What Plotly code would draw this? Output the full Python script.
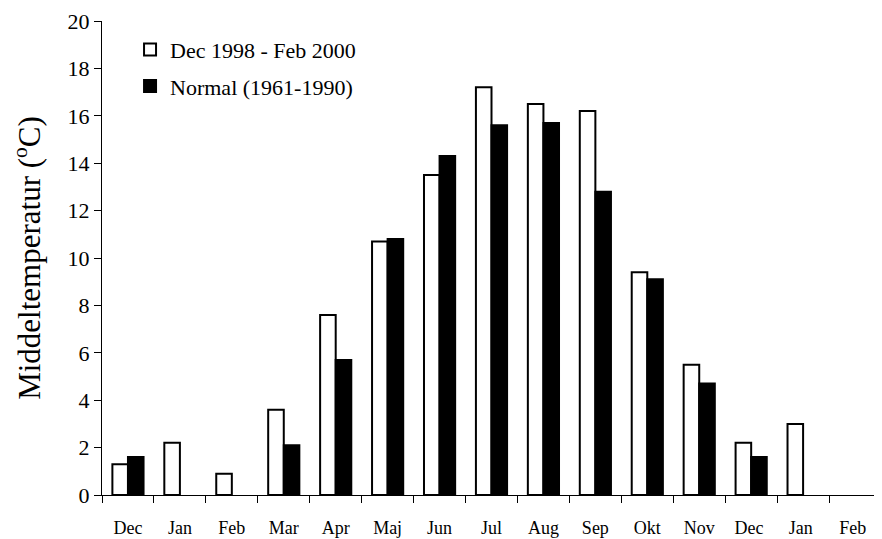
import plotly.graph_objects as go

months = ["Dec", "Jan", "Feb", "Mar", "Apr", "Maj", "Jun", "Jul",
          "Aug", "Sep", "Okt", "Nov", "Dec ", "Jan ", "Feb "]
period_vals = [1.3, 2.2, 0.9, 3.6, 7.6, 10.7, 13.5, 17.2,
               16.5, 16.2, 9.4, 5.5, 2.2, 3.0, None]
normal_vals = [1.6, None, None, 2.1, 5.7, 10.8, 14.3, 15.6,
               15.7, 12.8, 9.1, 4.7, 1.6, None, None]

FONT = "Liberation Serif"

fig = go.Figure()
fig.add_trace(go.Bar(
    x=months, y=period_vals, name="Dec 1998 - Feb 2000", legendgroup="period",
    marker=dict(color="white", line=dict(color="black", width=2)),
))
fig.add_trace(go.Bar(
    x=months, y=normal_vals, name="Normal (1961-1990)", legendgroup="normal",
    marker=dict(color="black", line=dict(color="black", width=2)),
))

# page body has an 8px margin, so the figure is sized/offset accordingly
fig.update_layout(
    width=874, height=531,
    margin=dict(l=94, r=1, t=13, b=44),
    paper_bgcolor="white", plot_bgcolor="white",
    barmode="group", bargap=0.4, bargroupgap=0,
    font=dict(family=FONT, color="black", size=16),
    showlegend=True,
    legend=dict(x=0.036, y=0.984, xanchor="left", yanchor="top",
                font=dict(size=22), bgcolor="rgba(0,0,0,0)",
                itemwidth=30, tracegroupgap=5),
)
fig.update_xaxes(
    type="category", tickson="boundaries", automargin=False,
    showline=True, linecolor="black", linewidth=1,
    ticks="outside", ticklen=7, tickcolor="black",
    tickfont=dict(size=18), ticklabelstandoff=16,
    showgrid=False, zeroline=False,
)
fig.update_yaxes(
    range=[0, 20], dtick=2, automargin=False,
    showline=True, linecolor="black", linewidth=1,
    ticks="outside", ticklen=7, tickcolor="black",
    tickfont=dict(size=22),
    showgrid=False, zeroline=False,
    title=dict(text="Middeltemperatur (<sup>o</sup>C)", font=dict(size=31), standoff=17),
)

fig.write_html("out.html")
